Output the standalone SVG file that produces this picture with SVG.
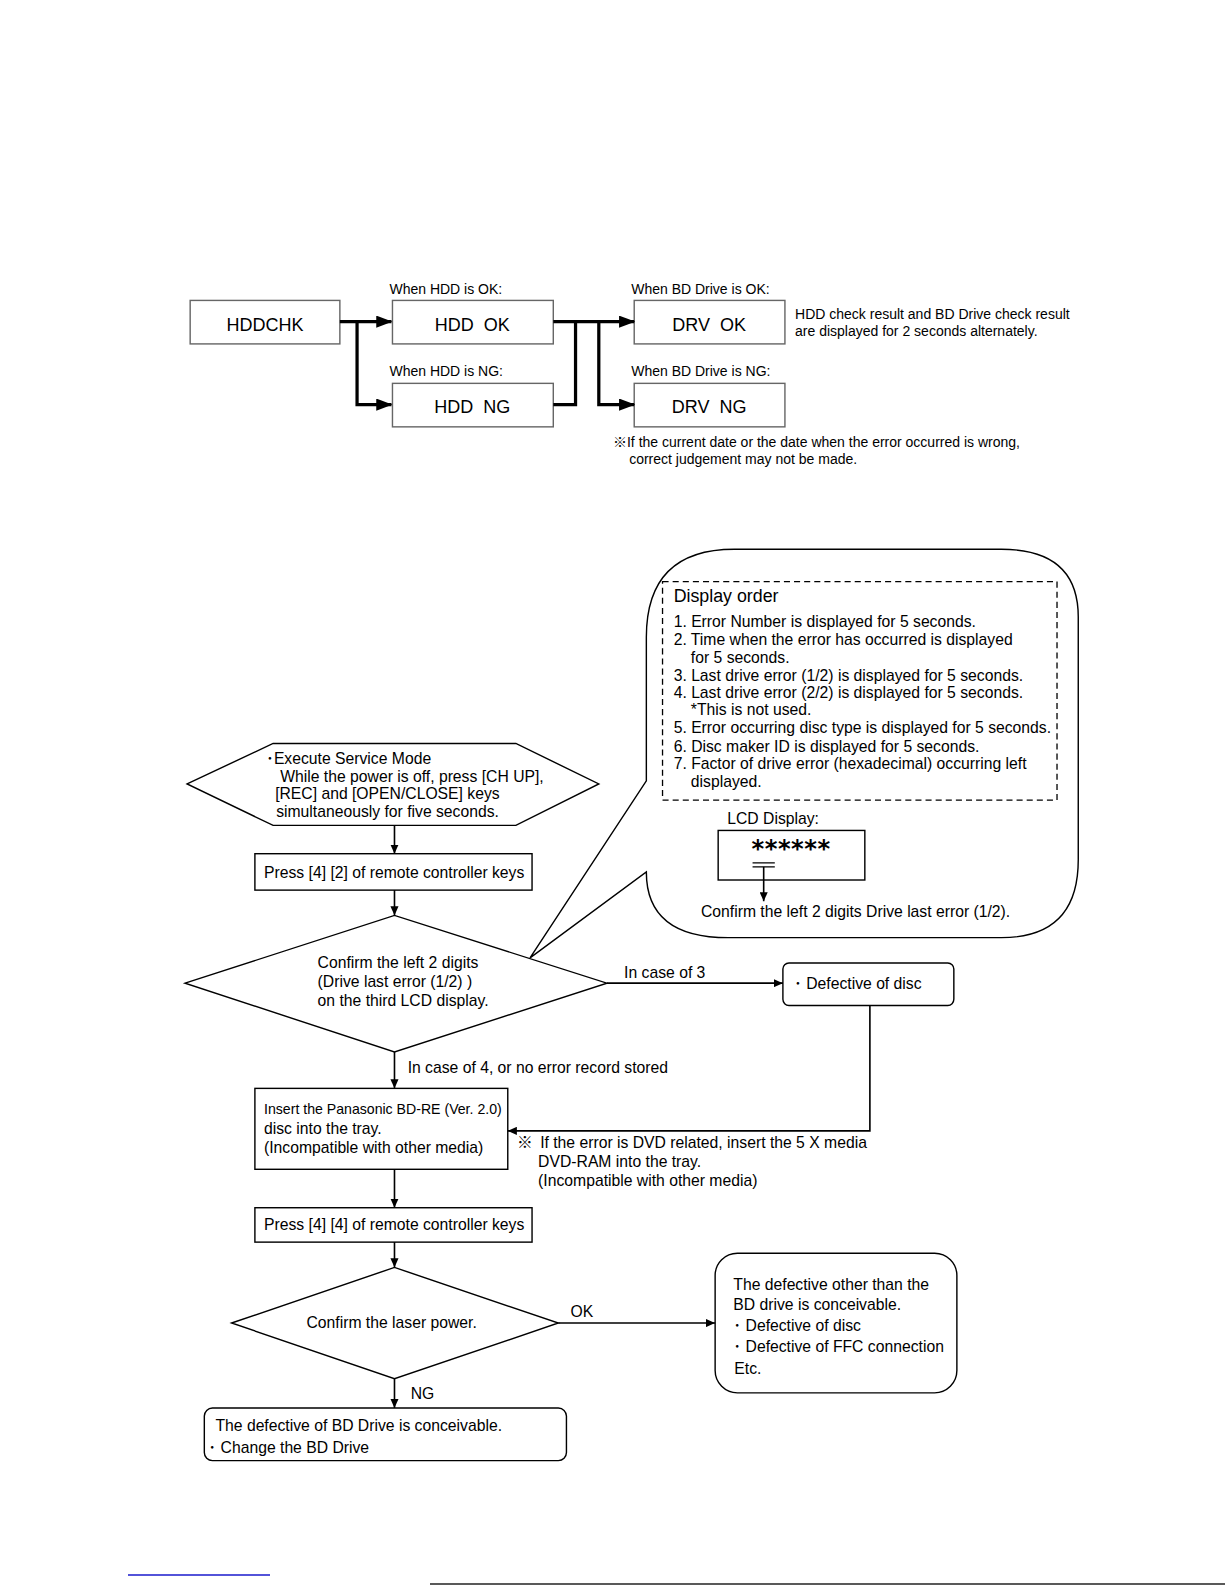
<svg xmlns="http://www.w3.org/2000/svg" width="1225" height="1585" viewBox="0 0 1225 1585">
<defs>
<marker id="ah" markerUnits="userSpaceOnUse" markerWidth="16" markerHeight="12" refX="15" refY="6" orient="auto">
<path d="M0,0 L16,6 L0,12 Z" fill="#000"/>
</marker>
<marker id="as" markerUnits="userSpaceOnUse" markerWidth="9" markerHeight="8" refX="9" refY="4" orient="auto">
<path d="M0,0 L9,4 L0,8 Z" fill="#000"/>
</marker>
</defs>
<style>
text{font-family:"Liberation Sans",Arial,sans-serif;fill:#000}
.big{font-size:17.8px}
.lab{font-size:13.85px}
.t{font-size:15.55px}
.tb{fill:#fff;stroke:#666;stroke-width:1.4}
.b{fill:#fff;stroke:#000;stroke-width:1.4}
.thick{fill:none;stroke:#000;stroke-width:3.2}
.thin{fill:none;stroke:#000;stroke-width:1.6}
.cjk{font-family:"Noto Sans CJK JP","Liberation Sans",sans-serif}
</style>
<rect width="1225" height="1585" fill="#fff"/>
<g transform="scale(1.0115)">
<g id="hddchk"><rect class="tb" x="188" y="297" width="148" height="43"/><text class="big" x="262" y="327" text-anchor="middle">HDDCHK</text></g>
<g id="hddok"><text class="lab" x="385" y="291">When HDD is OK:</text><rect class="tb" x="388" y="297" width="159" height="43"/><text class="big" x="467" y="327" text-anchor="middle" xml:space="preserve">HDD  OK</text></g>
<g id="hddng"><text class="lab" x="385" y="372">When HDD is NG:</text><rect class="tb" x="388" y="379" width="159" height="43"/><text class="big" x="467" y="408" text-anchor="middle" xml:space="preserve">HDD  NG</text></g>
<g id="drvok"><text class="lab" x="624" y="291">When BD Drive is OK:</text><rect class="tb" x="627" y="297" width="149" height="43"/><text class="big" x="701" y="327" text-anchor="middle" xml:space="preserve">DRV  OK</text></g>
<g id="drvng"><text class="lab" x="624" y="372">When BD Drive is NG:</text><rect class="tb" x="627" y="379" width="149" height="43"/><text class="big" x="701" y="408" text-anchor="middle" xml:space="preserve">DRV  NG</text></g>
<g id="topnotes">
<text class="lab" x="786" y="315">HDD check result and BD Drive check result</text>
<text class="lab" x="786" y="332">are displayed for 2 seconds alternately.</text>
<text class="lab" x="606" y="442"><tspan class="cjk">※</tspan>If the current date or the date when the error occurred is wrong,</text>
<text class="lab" x="622" y="459">correct judgement may not be made.</text>
</g>

<g id="callout">
<path class="b" d="M524,947 L639,772 L639,630 Q639,543 726,543 L990,543 Q1066,543 1066,610 L1066,850 Q1066,927 990,927 L720,927 Q639,927 639,862 Z"/>
<rect x="655" y="575" width="390" height="216" fill="none" stroke="#000" stroke-width="1.3" stroke-dasharray="6,4"/>
<text x="666" y="595" style="font-size:17.6px">Display order</text>
<text class="t" x="666" y="620">1. Error Number is displayed for 5 seconds.</text>
<text class="t" x="666" y="638">2. Time when the error has occurred is displayed</text>
<text class="t" x="683" y="655">for 5 seconds.</text>
<text class="t" x="666" y="673">3. Last drive error (1/2) is displayed for 5 seconds.</text>
<text class="t" x="666" y="690">4. Last drive error (2/2) is displayed for 5 seconds.</text>
<text class="t" x="683" y="707">*This is not used.</text>
<text class="t" x="666" y="725">5. Error occurring disc type is displayed for 5 seconds.</text>
<text class="t" x="666" y="743">6. Disc maker ID is displayed for 5 seconds.</text>
<text class="t" x="666" y="760">7. Factor of drive error (hexadecimal) occurring left</text>
<text class="t" x="683" y="778">displayed.</text>
<text class="t" x="719" y="815">LCD Display:</text>
<rect class="b" x="710" y="821" width="145" height="49"/>
<text x="743" y="847" style="font-family:'DejaVu Sans',sans-serif;font-size:24px;font-weight:bold;letter-spacing:0.5px">******</text>
<path d="M744,853 H766 M744,857 H766" stroke="#000" stroke-width="1.2"/>
<line class="thin" x1="755" y1="857" x2="755" y2="891" marker-end="url(#as)"/>
<text class="t" x="693" y="907">Confirm the left 2 digits Drive last error (1/2).</text>
</g>

<g id="start">
<polygon class="b" points="185,775 270,735 510,735 592,775 510,816 270,816"/>
<text class="t" x="263" y="755"><tspan class="cjk">･</tspan>Execute Service Mode</text>
<text class="t" x="277" y="773">While the power is off, press [CH UP],</text>
<text class="t" x="272" y="790">[REC] and [OPEN/CLOSE] keys</text>
<text class="t" x="273" y="808">simultaneously for five seconds.</text>
</g>
<g id="press42"><rect class="b" x="252" y="844" width="274" height="36"/><text class="t" x="261" y="868">Press [4] [2] of remote controller keys</text></g>
<g id="confirm1">
<polygon class="b" points="183,972 390,905 600,972 390,1040"/>
<text class="t" x="314" y="957">Confirm the left 2 digits</text>
<text class="t" x="314" y="976">(Drive last error (1/2) )</text>
<text class="t" x="314" y="995">on the third LCD display.</text>
</g>
<g id="defdisc"><rect class="b" x="774" y="952" width="169" height="42" rx="6"/><text class="t" x="785" y="978"><tspan class="cjk">･</tspan> Defective of disc</text></g>
<g id="insert">
<rect class="b" x="252" y="1076" width="250" height="80"/>
<text x="261" y="1101" style="font-size:14.8px" textLength="235" lengthAdjust="spacingAndGlyphs">Insert the Panasonic BD-RE (Ver. 2.0)</text>
<text class="t" x="261" y="1121">disc into the tray.</text>
<text class="t" x="261" y="1140">(Incompatible with other media)</text>
</g>
<g id="dvdnote">
<text class="t" x="511" y="1135"><tspan class="cjk">※</tspan><tspan x="534">If the error is DVD related, insert the 5 X media</tspan></text>
<text class="t" x="532" y="1154">DVD-RAM into the tray.</text>
<text class="t" x="532" y="1173">(Incompatible with other media)</text>
</g>
<g id="press44"><rect class="b" x="252" y="1194" width="274" height="34"/><text class="t" x="261" y="1216">Press [4] [4] of remote controller keys</text></g>
<g id="confirm2"><polygon class="b" points="229,1308 390,1253 552,1308 390,1363"/><text class="t" x="303" y="1313">Confirm the laser power.</text></g>
<g id="other">
<rect class="b" x="707" y="1239" width="239" height="138" rx="22"/>
<text class="t" x="725" y="1275">The defective other than the</text>
<text class="t" x="725" y="1295">BD drive is conceivable.</text>
<text class="t" x="725" y="1316"><tspan class="cjk">･</tspan> Defective of disc</text>
<text class="t" x="725" y="1337"><tspan class="cjk">･</tspan> Defective of FFC connection</text>
<text class="t" x="726" y="1358">Etc.</text>
</g>
<g id="bddrive">
<rect class="b" x="202" y="1392" width="358" height="52" rx="8"/>
<text class="t" x="213" y="1415">The defective of BD Drive is conceivable.</text>
<text class="t" x="206" y="1436"><tspan class="cjk">･</tspan> Change the BD Drive</text>
</g>

<g id="connectors">
<path class="thick" d="M336,318 H387" marker-end="url(#ah)"/>
<path class="thick" d="M353,318 V400 H387" marker-end="url(#ah)"/>
<path class="thick" d="M547,318 H627" marker-end="url(#ah)"/>
<path class="thick" d="M547,400 H569 V318"/>
<path class="thick" d="M592,318 V400 H627" marker-end="url(#ah)"/>
<path class="thin" d="M390,816 V844" marker-end="url(#as)"/>
<path class="thin" d="M390,880 V905" marker-end="url(#as)"/>
<path class="thin" d="M600,972 H774" marker-end="url(#as)"/>
<text class="t" x="617" y="967">In case of 3</text>
<path class="thin" d="M390,1040 V1076" marker-end="url(#as)"/>
<text class="t" x="403" y="1061">In case of 4, or no error record stored</text>
<path class="thin" d="M860,994 V1118 H502" marker-end="url(#as)"/>
<path class="thin" d="M390,1156 V1194" marker-end="url(#as)"/>
<path class="thin" d="M390,1228 V1253" marker-end="url(#as)"/>
<path class="thin" d="M552,1308 H707" marker-end="url(#as)"/>
<text class="t" x="564" y="1302">OK</text>
<path class="thin" d="M390,1363 V1392" marker-end="url(#as)"/>
<text class="t" x="406" y="1383">NG</text>
</g>
</g>
<line x1="128" y1="1575" x2="270" y2="1575" stroke="#1a1acc" stroke-width="1.5"/>
<line x1="430" y1="1584" x2="1225" y2="1584" stroke="#222" stroke-width="1.5"/>
</svg>
